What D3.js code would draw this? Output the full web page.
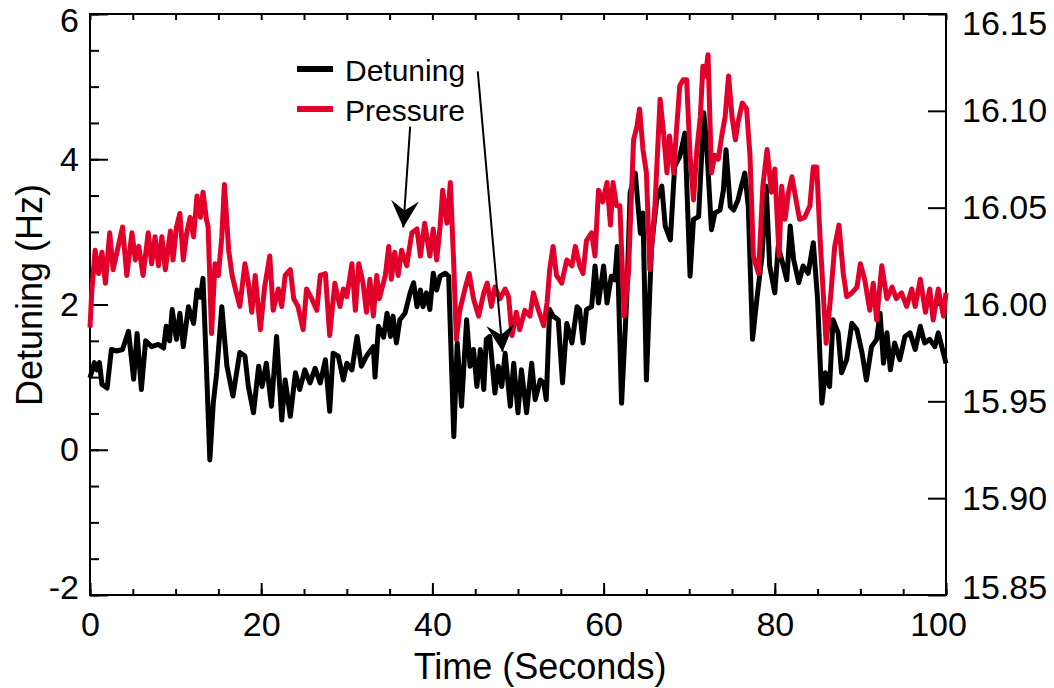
<!DOCTYPE html>
<html>
<head>
<meta charset="utf-8">
<script src="https://cdn.jsdelivr.net/npm/d3@7"></script>
<style>
  body { margin: 0; background: #fff; }
  svg { display: block; font-family: "Liberation Sans", Arial, sans-serif; }
</style>
</head>
<body>
<div id="chart"></div>
<script>
var detTime = [0,0.5,0.8,1.1,1.4,2.0,2.5,3.1,3.8,4.5,5.1,5.5,6.0,6.5,7.2,8.0,8.6,8.9,9.3,9.6,
  10.1,10.5,10.9,11.5,12.1,12.5,12.9,13.2,13.6,14.0,14.4,14.8,15.4,16.0,16.7,17.5,18.1,18.5,19.1,19.7,
  20.1,20.6,21.2,21.8,22.4,22.8,23.4,24.0,24.5,25.1,25.7,26.3,26.9,27.5,28.0,28.4,29.0,29.6,30.0,30.6,
  31.2,31.7,32.3,33.1,33.3,33.7,34.3,34.7,35.1,35.4,35.8,36.2,36.8,37.4,37.8,38.2,38.6,38.9,39.3,39.7,
  40.1,40.5,40.9,41.5,41.9,42.5,42.9,43.4,44.0,44.4,44.8,45.2,45.6,46.0,46.3,46.7,47.3,47.7,48.1,48.5,
  49.1,49.5,50.0,50.4,51.0,51.6,52.0,52.6,53.0,53.3,53.7,54.1,54.7,55.2,55.7,56.3,56.9,57.2,57.6,58.0,
  58.6,59.0,59.4,60.0,60.4,60.9,61.3,61.6,62.1,62.7,63.1,63.7,64.3,64.6,65.0,65.6,66.2,66.8,67.2,67.8,
  68.3,68.9,69.5,70.1,70.5,71.1,71.7,72.0,72.6,73.0,73.6,74.0,74.3,74.8,75.2,75.7,76.1,76.5,76.9,77.4,
  77.9,78.5,79.0,79.4,80.0,80.4,81.0,81.4,81.8,82.2,82.8,83.3,83.9,84.5,85.0,85.5,85.9,86.4,86.8,87.4,
  87.8,88.4,89.0,89.6,90.2,90.7,91.3,91.9,92.3,92.7,93.1,93.5,94.0,94.6,95.2,95.8,96.4,97.0,97.5,98.1,
  98.7,99.1,99.7,100];
var detuning = [0.99,1.2,1.1,1.2,0.9,0.85,1.38,1.36,1.38,1.63,0.97,1.6,0.83,1.5,1.42,1.45,1.4,1.7,1.5,1.93,
  1.52,1.88,1.42,1.97,1.74,2.2,2.1,2.36,1.15,-0.14,0.64,1.06,1.97,1.15,0.74,1.34,1.29,0.87,0.51,1.15,
  0.87,1.19,0.6,1.56,0.41,0.96,0.46,1.06,0.83,1.1,0.92,1.12,0.92,1.24,0.53,1.33,1.29,0.96,1.19,1.1,
  1.56,1.15,1.29,1.42,1.0,1.7,1.55,1.88,1.56,1.84,1.47,1.79,1.88,2.16,2.3,1.97,2.2,1.97,2.16,1.93,
  2.43,2.2,2.39,2.43,2.39,0.18,1.47,0.6,1.79,1.15,1.38,0.87,1.38,0.83,1.52,1.56,0.78,1.15,0.87,1.33,
  0.6,1.19,0.51,1.1,0.51,1.19,0.69,0.96,0.92,0.69,1.93,1.84,1.79,0.92,1.74,1.47,1.97,1.93,1.47,1.93,
  1.97,2.53,2.02,2.53,2.02,2.39,2.34,2.8,0.64,2.07,3.54,3.81,2.98,3.26,0.96,2.8,3.44,3.63,3.08,2.89,
  3.9,4.04,4.36,2.39,3.17,3.21,4.64,4.27,3.03,3.26,3.3,3.58,4.13,3.35,3.3,3.44,3.63,3.81,3.35,1.52,
  2.07,2.66,3.63,2.53,2.16,2.8,2.53,2.34,3.08,2.62,2.3,2.53,2.43,2.85,2.07,0.64,1.06,0.87,1.79,1.61,
  1.06,1.24,1.74,1.65,1.33,0.96,1.42,1.52,1.88,1.19,1.61,1.1,1.47,1.24,1.56,1.61,1.38,1.7,1.47,1.52,
  1.42,1.61,1.33,1.19];

var presTime = [0,0.2,0.6,1.0,1.4,1.8,2.3,2.7,3.3,3.8,4.3,4.9,5.3,5.7,6.2,6.8,7.2,7.6,8.0,8.4,
  8.8,9.4,9.7,10.1,10.5,10.9,11.3,11.7,12.1,12.5,12.9,13.2,13.6,13.8,14.2,14.6,15.0,15.4,15.7,16.2,
  16.6,17.1,17.5,18.1,18.5,18.9,19.3,19.9,20.4,21.0,21.4,22.0,22.4,22.8,23.4,23.8,24.3,24.9,25.3,25.9,
  26.5,26.9,27.5,28.0,28.6,29.2,29.6,30.0,30.6,31.0,31.4,31.9,32.3,32.7,33.1,33.5,33.8,34.5,34.9,35.2,
  35.6,36.0,36.4,37.0,37.6,38.2,38.6,39.1,39.7,40.1,40.5,40.9,41.2,41.7,42.1,42.5,42.8,43.2,43.8,44.3,
  44.8,45.4,46.0,46.4,46.9,47.3,47.9,48.5,48.9,49.3,49.8,50.2,50.8,51.4,51.8,52.4,53.0,53.4,53.7,54.1,
  54.5,55.1,55.7,56.3,56.7,57.2,57.6,58.0,58.6,59.0,59.4,59.9,60.4,60.8,61.1,61.5,61.9,62.4,62.9,63.5,
  63.9,64.2,64.6,65.0,65.4,66.0,66.6,67.0,67.4,67.7,68.2,68.5,68.9,69.3,69.7,70.1,70.5,70.9,71.3,71.6,
  71.9,72.2,72.6,73.0,73.4,73.8,74.2,74.6,75.0,75.4,75.7,76.2,76.7,77.1,77.5,78.1,78.6,79.1,79.6,80.0,
  80.5,80.8,81.2,81.6,82.0,82.6,82.9,83.5,84.1,84.5,84.9,85.3,86.0,86.5,87.0,87.5,88.0,88.4,89.0,89.6,
  90.0,90.5,91.1,91.5,91.9,92.5,93.1,93.7,94.2,94.8,95.4,96.0,96.4,97.0,97.6,98.1,98.5,99.1,99.7,100];
var pressure = [15.988,16.006,16.028,16.016,16.027,16.011,16.037,16.018,16.030,16.040,16.015,16.037,16.023,16.030,16.015,16.037,16.021,16.035,16.020,16.035,
  16.018,16.038,16.023,16.040,16.047,16.023,16.037,16.045,16.035,16.056,16.045,16.058,16.044,16.040,15.985,16.021,16.015,16.035,16.062,16.028,
  16.015,16.006,15.999,16.021,16.011,15.996,16.015,15.987,16.009,16.025,15.997,16.008,15.999,16.015,16.018,16.003,15.999,15.987,16.008,16.003,
  15.997,16.015,16.016,15.984,16.011,15.999,16.008,16.004,16.021,15.997,16.021,16.011,15.996,16.013,15.994,16.015,16.003,16.015,16.030,16.013,
  16.027,16.015,16.028,16.020,16.037,16.039,16.025,16.042,16.025,16.039,16.023,16.040,16.059,16.042,16.063,16.020,15.982,15.997,16.008,16.016,
  16.003,15.994,16.006,16.011,15.999,16.009,16.003,16.008,16.004,15.984,15.996,15.987,15.997,15.994,16.006,15.997,15.989,16.001,16.018,16.030,
  16.015,16.011,16.023,16.020,16.030,16.020,16.016,16.033,16.037,16.025,16.059,16.053,16.063,16.041,16.063,16.051,16.051,15.994,16.016,16.085,
  16.092,16.101,16.080,16.068,16.018,16.051,16.106,16.089,16.068,16.087,16.068,16.089,16.113,16.116,16.116,16.077,16.054,16.080,16.097,16.123,
  16.118,16.129,16.068,16.077,16.075,16.087,16.097,16.118,16.097,16.085,16.094,16.104,16.101,16.077,16.025,16.016,16.061,16.080,16.058,16.070,
  16.025,16.061,16.044,16.058,16.066,16.051,16.044,16.045,16.051,16.071,16.071,16.033,15.980,16.003,16.030,16.041,16.016,16.004,16.006,16.009,
  16.021,16.013,15.997,16.011,15.992,16.020,16.003,16.009,16.003,16.006,15.999,16.008,15.999,16.013,15.996,16.008,15.992,16.008,15.994,16.006];

var xTicks = [0, 20, 40, 60, 80, 100];
var yTicks = [-2, 0, 2, 4, 6];
var y2Ticks = [15.85, 15.90, 15.95, 16.00, 16.05, 16.10, 16.15];

// arrows drawn from the labels down to each trace: [t0, v0, t1, v1] in left-axis units
var arrows = [[37.4, 4.45, 36.6, 3.06], [45.3, 5.21, 48.2, 1.35]];

var width = 1054, height = 688;
var mLeft = 90, mRight = 946, mTop = 14, mBottom = 595;
var red = '#e2002b';

var svg = d3
    .select('#chart')
    .append('svg')
    .attr('width', width)
    .attr('height', height);

var x = d3.scaleLinear().domain([0, 100]).range([mLeft, mRight]);
var y = d3.scaleLinear().domain([-2, 6]).range([mBottom, mTop]);
var y2 = d3.scaleLinear().domain([15.85, 16.15]).range([mBottom, mTop]);

// minor ticks
svg.append('g')
    .attr('transform', `translate(0,${mBottom})`)
    .call(d3.axisBottom(x).tickValues(d3.range(0, 101, 5)).tickSize(-6).tickFormat(''));
svg.append('g')
    .attr('transform', `translate(0,${mTop})`)
    .call(d3.axisTop(x).tickValues(d3.range(0, 101, 5)).tickSize(-6).tickFormat(''));
svg.append('g')
    .attr('transform', `translate(${mLeft},0)`)
    .call(d3.axisLeft(y).tickValues(d3.range(-2, 6.01, 0.5)).tickSize(-9).tickFormat(''));

// major ticks + labels
var xAxis = svg.append('g')
    .attr('transform', `translate(0,${mBottom})`)
    .call(d3.axisBottom(x).tickValues(xTicks).tickSize(-12).tickPadding(17).tickFormat(d => String(d)));
var yAxis = svg.append('g')
    .attr('transform', `translate(${mLeft},0)`)
    .call(d3.axisLeft(y).tickValues(yTicks).tickSize(-18).tickPadding(11).tickFormat(d => String(d)));
var y2Axis = svg.append('g')
    .attr('transform', `translate(${mRight},0)`)
    .call(d3.axisRight(y2).tickValues(y2Ticks).tickSize(-18).tickPadding(16).tickFormat(d => d.toFixed(2)));

svg.selectAll('.domain').remove();
svg.selectAll('.tick line').attr('stroke', '#000').attr('stroke-width', 2);
svg.selectAll('.tick text')
    .attr('fill', '#000')
    .style('font-size', '34px')
    .style('font-family', '"Liberation Sans", Arial, sans-serif');

xAxis.selectAll('.tick text').filter(d => d === 100).attr('dx', -8);
yAxis.selectAll('.tick text').filter(d => d === 6).attr('dy', '0.5em');
yAxis.selectAll('.tick text').filter(d => d === -2).attr('dy', '0.1em');
y2Axis.selectAll('.tick text').filter(d => d === 16.15).attr('dy', '0.6em');
y2Axis.selectAll('.tick text').filter(d => d === 15.85).attr('dy', '0.1em');

svg.append('rect')
    .attr('x', mLeft)
    .attr('y', mTop)
    .attr('width', mRight - mLeft)
    .attr('height', mBottom - mTop)
    .attr('fill', 'none')
    .attr('stroke', '#000')
    .attr('stroke-width', 2);

var detLine = d3.line()
    .x((d, i) => x(detTime[i]))
    .y(d => y(d));
var presLine = d3.line()
    .x((d, i) => x(presTime[i]))
    .y(d => y2(d));

svg.append('path')
    .datum(detuning)
    .attr('d', detLine)
    .attr('fill', 'none')
    .attr('stroke', '#000')
    .attr('stroke-width', 5)
    .attr('stroke-linejoin', 'round');

svg.append('path')
    .datum(pressure)
    .attr('d', presLine)
    .attr('fill', 'none')
    .attr('stroke', red)
    .attr('stroke-width', 5)
    .attr('stroke-linejoin', 'round');

svg.append('defs')
    .append('marker')
    .attr('id', 'head')
    .attr('markerUnits', 'userSpaceOnUse')
    .attr('viewBox', '-28 -15 30 30')
    .attr('markerWidth', 30)
    .attr('markerHeight', 30)
    .attr('refX', 0)
    .attr('refY', 0)
    .attr('orient', 'auto')
    .append('path')
    .attr('d', 'M0,0 L-27,-14 L-17,0 L-27,14 Z')
    .attr('fill', '#000');

svg.selectAll('.arrow')
    .data(arrows)
    .enter()
    .append('line')
    .attr('class', 'arrow')
    .attr('x1', d => x(d[0]))
    .attr('y1', d => y(d[1]))
    .attr('x2', d => x(d[2]))
    .attr('y2', d => y(d[3]))
    .attr('stroke', '#000')
    .attr('stroke-width', 2)
    .attr('marker-end', 'url(#head)');

var legend = svg.append('g');
[['Detuning', '#000', 69], ['Pressure', red, 109]].forEach(function (l) {
    legend.append('line')
        .attr('x1', 297).attr('x2', 333)
        .attr('y1', l[2]).attr('y2', l[2])
        .attr('stroke', l[1])
        .attr('stroke-width', 6);
    legend.append('text')
        .attr('x', 345)
        .attr('y', l[2] + 12)
        .style('font-size', '30px')
        .text(l[0]);
});

svg.append('text')
    .attr('x', 540)
    .attr('y', 679)
    .attr('text-anchor', 'middle')
    .style('font-size', '36px')
    .text('Time (Seconds)');

svg.append('text')
    .attr('transform', `translate(42, 295)rotate(-90)`)
    .attr('text-anchor', 'middle')
    .style('font-size', '36px')
    .text('Detuning (Hz)');
</script>
</body>
</html>
